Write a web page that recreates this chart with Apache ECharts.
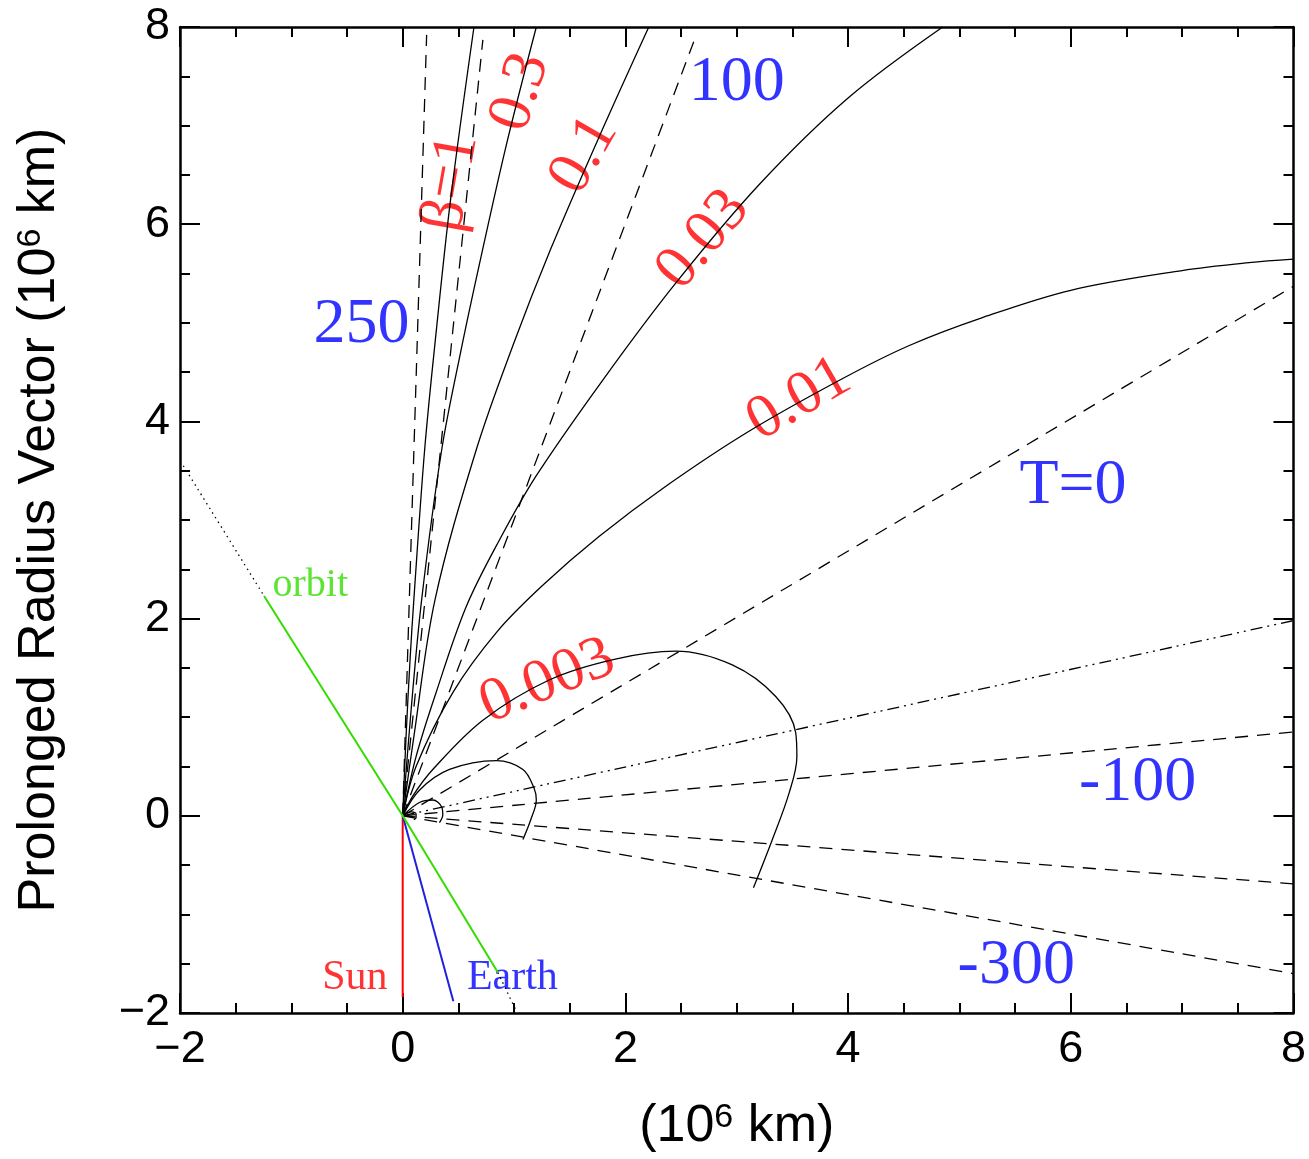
<!DOCTYPE html>
<html>
<head>
<meta charset="utf-8">
<title>Prolonged radius vector – syndynes and synchrones</title>
<script src="https://cdn.jsdelivr.net/npm/echarts@6/dist/echarts.min.js"></script>
<style>
  html, body { margin: 0; padding: 0; background: #fff; }
  #chart { width: 1309px; height: 1159px; }
</style>
</head>
<body>
<div id="chart"></div>
<script>
// axis range (10^6 km)
const xRange = [-2, 8];
const yRange = [-2, 8];

// syndynes (solid) as [x, y]
const syndyne1 = [[0, 0], [0.03, 0.8], [0.067, 1.6], [0.1, 2.19], [0.197, 3.71], [0.3, 4.9], [0.43, 6.25], [0.64, 8.0]];
const syndyne03 = [[0, 0], [0.07, 1.0], [0.17, 2.19], [0.35, 3.71], [0.52, 4.7], [0.69, 5.6], [0.93, 6.8], [1.2, 8.0]];
const syndyne01 = [[0, 0], [0.1, 0.8], [0.29, 2.19], [0.66, 3.71], [1.0, 4.8], [1.33, 5.75], [1.75, 6.85], [2.21, 8.0]];
const syndyne003 = [[0, 0], [0.12, 0.6], [0.3, 1.25], [0.57, 2.12], [0.87, 2.8], [1.2, 3.45], [1.81, 4.44], [2.45, 5.4], [3.2, 6.4], [4.0, 7.28], [4.85, 8.0]];
const syndyne001 = [[0, 0], [0.12, 0.5], [0.45, 1.25], [0.85, 1.87], [1.26, 2.34], [1.76, 2.83], [2.36, 3.34], [3.11, 3.9], [3.96, 4.44], [4.55, 4.77], [5.2, 5.05], [6.0, 5.33], [7.0, 5.53], [7.6, 5.61], [8.0, 5.645]];
const syndyne0003 = [[0, 0], [0.09, 0.2], [0.27, 0.47], [0.72, 0.97], [1.32, 1.38], [1.91, 1.59], [2.45, 1.67], [2.96, 1.53], [3.35, 1.21], [3.53, 0.84], [3.54, 0.6], [3.47, 0.23], [3.32, -0.24], [3.15, -0.73]];
const syndyne0001 = [[0, 0], [0.15, 0.26], [0.42, 0.47], [0.84, 0.56], [1.08, 0.47], [1.18, 0.28], [1.2, 0.16], [1.15, -0.04], [1.08, -0.24]];
const syndyne00003 = [[0, 0], [0.15, 0.135], [0.27, 0.16], [0.35, 0.09], [0.36, 0.01], [0.33, -0.07]];
const syndyne00001 = [[0, 0], [0.08, 0.04], [0.12, 0.02], [0.12, -0.02], [0.1, -0.04]];

// synchrones (dashed), from the nucleus outwards
const synchrone250 = [[0, 0], [0.215, 7.92]];
const synchrone200 = [[0, 0], [0.72, 7.87]];
const synchrone100 = [[0, 0], [2.63, 7.9]];
const synchrone0 = [[0, 0], [8.0, 5.37]];
const synchroneMid = [[0, 0], [8.0, 1.98]];
const synchroneM100 = [[0, 0], [8.0, 0.85]];
const synchroneM200 = [[0, 0], [8.0, -0.69]];
const synchroneM300 = [[0, 0], [8.0, -1.6]];

// orbit, sun and earth directions
const orbitSolid = [[-1.245, 2.23], [0, 0], [0.855, -1.59]];
const orbitDotUpper = [[-1.97, 3.55], [-1.245, 2.23]];
const orbitDotLower = [[0.855, -1.59], [1.02, -1.98]];
const sunLine = [[0, 0], [0, -1.84]];
const earthLine = [[0, 0], [0.455, -1.88]];

const RED = "#ff0000";
const BLUE = "#0000ff";
const GREEN = "#33dd00";
const SANS = "'Liberation Sans Narrow', 'Liberation Sans', Arial, sans-serif";
const SERIF = "'Liberation Serif', 'Times New Roman', serif";

const annotations = [
  { text: "β=1", at: [0.44, 6.42], rotate: 80, color: RED, size: 62 },
  { text: "0.3", at: [1.06, 7.34], rotate: 72, color: RED, size: 62 },
  { text: "0.1", at: [1.63, 6.7], rotate: 60, color: RED, size: 62 },
  { text: "0.03", at: [2.7, 5.84], rotate: 50, color: RED, size: 62 },
  { text: "0.01", at: [3.56, 4.22], rotate: 30, color: RED, size: 62 },
  { text: "0.003", at: [1.3, 1.36], rotate: 22, color: RED, size: 62 },
  { text: "100", at: [3.0, 7.43], rotate: 0, color: BLUE, size: 64 },
  { text: "250", at: [-0.37, 4.98], rotate: 0, color: BLUE, size: 64 },
  { text: "T=0", at: [6.02, 3.34], rotate: 0, color: BLUE, size: 64 },
  { text: "-100", at: [6.6, 0.335], rotate: 0, color: BLUE, size: 64 },
  { text: "-300", at: [5.51, -1.53], rotate: 0, color: BLUE, size: 64 },
  { text: "orbit", at: [-0.83, 2.34], rotate: 0, color: GREEN, size: 40 },
  { text: "Sun", at: [-0.43, -1.64], rotate: 0, color: RED, size: 42 },
  { text: "Earth", at: [0.985, -1.64], rotate: 0, color: BLUE, size: 42 },
];

const tickFormatter = (value) => (value < 0 ? "\u2212" + -value : String(value));

const titleStyle = {
  fontFamily: SANS,
  fontSize: 52,
  color: "#000",
  rich: {
    sup: { fontFamily: SANS, fontSize: 34, color: "#000", verticalAlign: "top", lineHeight: 52 },
  },
};

function makeAxis(position, withLabels, extra) {
  return Object.assign({
    type: "value",
    position,
    min: xRange[0],
    max: xRange[1],
    interval: 2,
    axisLine: { show: true, onZero: false, lineStyle: { color: "#000", width: 2.5 } },
    axisTick: { show: true, inside: true, length: 20, lineStyle: { color: "#000", width: 2 } },
    minorTick: { show: true, splitNumber: 4, length: 10, lineStyle: { color: "#000", width: 2 } },
    splitLine: { show: false },
    minorSplitLine: { show: false },
    axisLabel: {
      show: withLabels,
      formatter: tickFormatter,
      color: "#000",
      fontFamily: SANS,
      fontSize: 45,
    },
  }, extra);
}

function curve(data, dash, width) {
  return {
    type: "line",
    data,
    showSymbol: false,
    smooth: 0.35,
    silent: true,
    animation: false,
    lineStyle: { color: "#000", width: width || 1.3, type: dash || "solid" },
  };
}

function colored(data, color, dash) {
  return {
    type: "line",
    data,
    showSymbol: false,
    silent: true,
    animation: false,
    lineStyle: { color, width: 2, type: dash || "solid" },
  };
}

const DASH = [13, 9];
const DASH_DOT = [12, 5, 2, 5, 2, 5];
const DOT = [1.5, 4];

const series = [
  curve(syndyne1), curve(syndyne03), curve(syndyne01), curve(syndyne003),
  curve(syndyne001), curve(syndyne0003), curve(syndyne0001), curve(syndyne00003), curve(syndyne00001),
  curve(synchrone250, DASH), curve(synchrone200, DASH), curve(synchrone100, DASH), curve(synchrone0, DASH),
  curve(synchroneMid, DASH_DOT), curve(synchroneM100, DASH), curve(synchroneM200, DASH), curve(synchroneM300, DASH),
  curve(orbitDotUpper, DOT, 1.3), curve(orbitDotLower, DOT, 1.3),
  colored(sunLine, RED), colored(earthLine, "#2020dd"), colored(orbitSolid, GREEN),
  {
    type: "scatter",
    silent: true,
    animation: false,
    symbolSize: 1,
    itemStyle: { color: "rgba(0,0,0,0)" },
    data: annotations.map((a) => ({
      value: a.at,
      label: {
        show: true,
        position: "inside",
        formatter: a.text,
        rotate: a.rotate,
        color: a.color,
        fontFamily: SERIF,
        fontSize: a.size,
      },
    })),
  },
];

const chart = echarts.init(document.getElementById("chart"), undefined, { renderer: "canvas" });
chart.setOption({
  backgroundColor: "#fff",
  animation: false,
  grid: { left: 180, right: 12, top: 27, bottom: 146, containLabel: false },
  xAxis: [
    makeAxis("bottom", true, {
      name: "(10{sup|6} km)",
      nameLocation: "middle",
      nameGap: 88,
      nameTextStyle: titleStyle,
      axisLabel: { show: true, formatter: tickFormatter, color: "#000", fontFamily: SANS, fontSize: 45, margin: 14 },
    }),
    makeAxis("top", false),
  ],
  yAxis: [
    makeAxis("left", true, {
      min: yRange[0],
      max: yRange[1],
      name: "Prolonged Radius Vector (10{sup|6} km)",
      nameLocation: "middle",
      nameGap: 114,
      nameTextStyle: titleStyle,
      axisLabel: { show: true, formatter: tickFormatter, color: "#000", fontFamily: SANS, fontSize: 45, margin: 10 },
    }),
    makeAxis("right", false, { min: yRange[0], max: yRange[1] }),
  ],
  series,
});
</script>
</body>
</html>
